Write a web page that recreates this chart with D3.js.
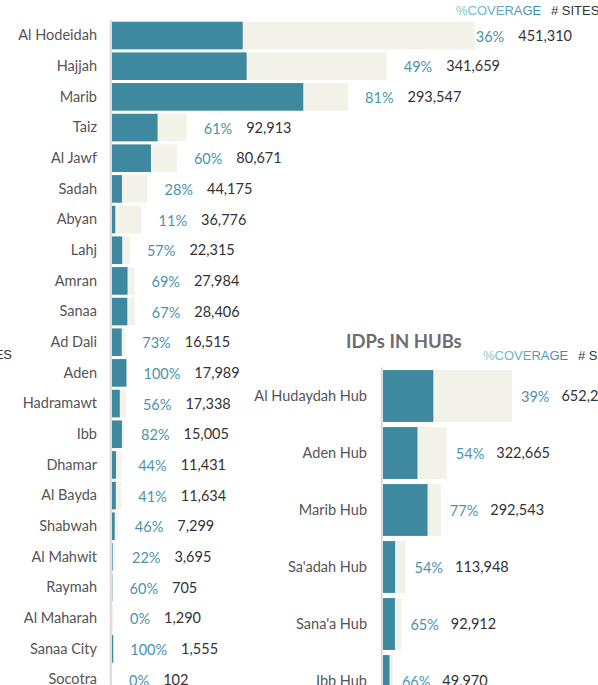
<!DOCTYPE html>
<html>
<head>
<meta charset="utf-8">
<script src="https://cdn.jsdelivr.net/npm/d3@7"></script>
<style>
	html, body { margin: 0; padding: 0; background: #fff; overflow: hidden; }
	svg { display: block; font-family: Lato, "Open Sans", sans-serif; }
</style>
</head>
<body>
<div id="chart"></div>
<script>
(function () {
	'use strict';

	// governorates
	var governorates = ["Al Hodeidah", "Hajjah", "Marib", "Taiz", "Al Jawf", "Sadah", "Abyan", "Lahj",
		"Amran", "Sanaa", "Ad Dali", "Aden", "Hadramawt", "Ibb", "Dhamar", "Al Bayda", "Shabwah",
		"Al Mahwit", "Raymah", "Al Maharah", "Sanaa City", "Socotra"];
	var govSites = [451310, 341659, 293547, 92913, 80671, 44175, 36776, 22315, 27984, 28406, 16515,
		17989, 17338, 15005, 11431, 11634, 7299, 3695, 705, 1290, 1555, 102];
	var govCoverage = [36, 49, 81, 61, 60, 28, 11, 57, 69, 67, 73, 100, 56, 82, 44, 41, 46, 22, 60, 0, 100, 0];

	// hubs
	var hubs = ["Al Hudaydah Hub", "Aden Hub", "Marib Hub", "Sa'adah Hub", "Sana'a Hub", "Ibb Hub"];
	var hubSites = [652276, 322665, 292543, 113948, 92912, 49970];
	var hubCoverage = [39, 54, 77, 54, 65, 66];

	var colors = {
		covered: "#3e89a0",
		total: "#f3f2e8",
		pct: "#4a93ab",
		number: "#333333",
		label: "#555555",
		axis: "#d9d9d9",
		title: "#6e6e6e"
	};

	var formatComma = d3.format(",");

	var svg = d3.select("#chart").append("svg")
		.attr("width", 598)
		.attr("height", 685);

	// gradient for the %COVERAGE header
	var grad = svg.append("defs").append("linearGradient")
		.attr("id", "covGrad")
		.attr("x1", "0%").attr("x2", "100%");
	grad.append("stop").attr("offset", "0%").attr("stop-color", "#7fcccc");
	grad.append("stop").attr("offset", "100%").attr("stop-color", "#3a88a8");

	function header(x, y) {
		var g = svg.append("g")
			.attr("transform", "translate(" + x + "," + y + ")")
			.style("font-family", "'Liberation Sans', Arial, sans-serif")
			.style("font-size", "13px");
		g.append("text")
			.attr("dy", "0.35em")
			.attr("fill", "url(#covGrad)")
			.text("%COVERAGE");
		g.append("text")
			.attr("x", 95)
			.attr("dy", "0.35em")
			.attr("fill", "#333")
			.text("# SITES");
	}

	function drawChart(opt) {
		var rows = opt.names.map(function (name, i) {
			return {
				name: name,
				sites: opt.sites[i],
				pct: opt.coverage[i]
			};
		});

		var x = d3.scaleLinear()
			.domain([0, d3.max(rows, function (d) { return d.sites; })])
			.range([opt.left, opt.left + opt.width]);

		var y = d3.scaleBand()
			.domain(opt.names)
			.range([opt.top, opt.top + opt.step * opt.names.length])
			.paddingInner(opt.pad)
			.paddingOuter(opt.pad / 2);

		var g = svg.append("g");

		// axis line
		g.append("line")
			.attr("x1", opt.left - 1.2)
			.attr("x2", opt.left - 1.2)
			.attr("y1", opt.top)
			.attr("y2", 685)
			.attr("stroke", colors.axis)
			.attr("stroke-width", 2);

		// row labels
		g.append("g")
			.call(d3.axisLeft(y).tickSize(0).tickPadding(opt.left - opt.labelRight))
			.call(function (a) {
				a.select(".domain").remove();
				a.selectAll("text")
					.attr("fill", colors.label)
					.style("font-family", "Lato, sans-serif")
					.style("font-size", opt.labelSize + "px");
			})
			.attr("transform", "translate(" + opt.left + ",0)");

		var row = g.selectAll("g.row")
			.data(rows)
			.enter()
			.append("g")
			.attr("class", "row")
			.attr("transform", function (d) {
				return "translate(0," + y(d.name) + ")";
			});

		// total sites
		row.append("rect")
			.attr("x", x(0))
			.attr("width", function (d) { return x(d.sites) - x(0); })
			.attr("height", y.bandwidth())
			.attr("fill", colors.total);

		// covered part
		row.append("rect")
			.attr("x", x(0))
			.attr("width", function (d) { return x(d.sites * d.pct / 100) - x(0); })
			.attr("height", y.bandwidth())
			.attr("fill", colors.covered);

		var pct = row.append("text")
			.attr("y", y.bandwidth() / 2 + 1)
			.attr("dy", "0.35em")
			.attr("fill", colors.pct)
			.style("font-size", opt.fontSize + "px")
			.text(function (d) { return d.pct + "%"; });

		var num = row.append("text")
			.attr("y", y.bandwidth() / 2)
			.attr("dy", "0.35em")
			.attr("fill", colors.number)
			.style("font-size", opt.fontSize + "px")
			.text(function (d) { return formatComma(d.sites); });

		// place labels after the bar, pushed back inside the pane if needed
		pct.each(function (d, i) {
			var pw = this.getComputedTextLength();
			var numNode = num.nodes()[i];
			var nw = numNode.getComputedTextLength();
			var px = x(d.sites) + opt.pctGap;
			var nx = px + pw + opt.numGap;
			var over = nx + nw - opt.paneRight;
			if (over > 0) {
				px -= over;
				nx -= over;
			}
			d3.select(this).attr("x", px);
			d3.select(numNode).attr("x", nx);
		});
	}

	// governorate chart
	drawChart({
		names: governorates,
		sites: govSites,
		coverage: govCoverage,
		left: 112,
		width: 363,
		top: 20.2,
		step: 30.67,
		pad: 0.1,
		labelRight: 97,
		labelSize: 14.5,
		fontSize: 14.5,
		pctGap: 17,
		numGap: 14,
		paneRight: 572
	});
	header(456, 10);

	// cut-off header of the chart on the left
	svg.append("text")
		.attr("x", 12)
		.attr("y", 354)
		.attr("dy", "0.35em")
		.attr("text-anchor", "end")
		.attr("fill", "#333")
		.style("font-family", "'Liberation Sans', Arial, sans-serif")
		.style("font-size", "13px")
		.text("# SITES");

	// hub chart
	svg.append("text")
		.attr("x", 346)
		.attr("y", 348)
		.attr("fill", colors.title)
		.style("font-size", "18.5px")
		.style("font-weight", "700")
		.text("IDPs IN HUBs");

	drawChart({
		names: hubs,
		sites: hubSites,
		coverage: hubCoverage,
		left: 383,
		width: 129,
		top: 367.5,
		step: 57,
		pad: 0.09,
		labelRight: 367,
		labelSize: 14.5,
		fontSize: 14.5,
		pctGap: 9,
		numGap: 12,
		paneRight: 700
	});
	header(483, 355);
})();
</script>
</body>
</html>
